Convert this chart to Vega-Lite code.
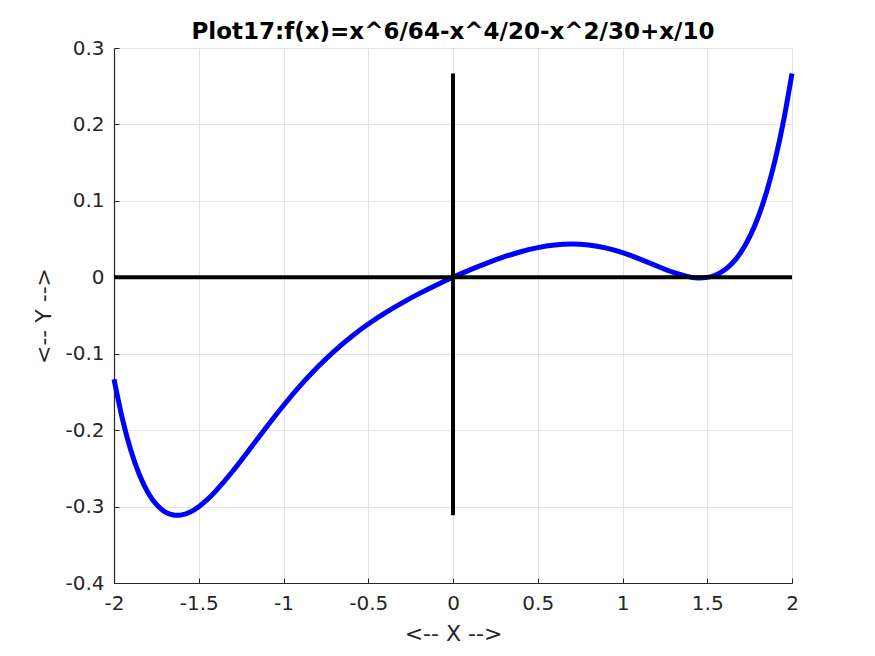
{
  "$schema": "https://vega.github.io/schema/vega-lite/v6.json",
  "width": 678,
  "height": 535,
  "autosize": {"type": "none"},
  "padding": {"left": 114, "top": 48, "right": 83, "bottom": 73},
  "background": "white",
  "config": {
    "font": "DejaVu Sans",
    "view": {"stroke": null},
    "axis": {
      "grid": true,
      "gridColor": "#e3e3e3",
      "gridWidth": 1,
      "domainColor": "#262626",
      "domainWidth": 1.2,
      "tickColor": "#262626",
      "tickSize": -5,
      "labelColor": "#262626",
      "labelFontSize": 20,
      "labelFlush": false,
      "labelOverlap": false,
      "labelFont": "DejaVu Sans",
      "titleFont": "DejaVu Sans",
      "titleFontSize": 22,
      "titleFontWeight": "normal",
      "titleColor": "#262626"
    }
  },
  "title": {
    "text": "Plot17:f(x)=x^6/64-x^4/20-x^2/30+x/10",
    "font": "DejaVu Sans",
    "fontSize": 23,
    "fontWeight": "bold",
    "color": "black",
    "anchor": "middle",
    "offset": -6
  },
  "layer": [
    {
      "data": {
        "values": [
          {"x": -2.0, "y": -0.133333},
          {"x": -1.95, "y": -0.185632},
          {"x": -1.9, "y": -0.226846},
          {"x": -1.85, "y": -0.25836},
          {"x": -1.8, "y": -0.281439},
          {"x": -1.75, "y": -0.297233},
          {"x": -1.7, "y": -0.306795},
          {"x": -1.65, "y": -0.31105},
          {"x": -1.6, "y": -0.310869},
          {"x": -1.55, "y": -0.307007},
          {"x": -1.5, "y": -0.300146},
          {"x": -1.45, "y": -0.290887},
          {"x": -1.4, "y": -0.279764},
          {"x": -1.3, "y": -0.253719},
          {"x": -1.2, "y": -0.225024},
          {"x": -1.1, "y": -0.195857},
          {"x": -1.0, "y": -0.167708},
          {"x": -0.9, "y": -0.141501},
          {"x": -0.8, "y": -0.117717},
          {"x": -0.7, "y": -0.0965},
          {"x": -0.6, "y": -0.077751},
          {"x": -0.5, "y": -0.061214},
          {"x": -0.4, "y": -0.046549},
          {"x": -0.3, "y": -0.033394},
          {"x": -0.2, "y": -0.021412},
          {"x": -0.1, "y": -0.010338},
          {"x": 0.0, "y": 0.0},
          {"x": 0.1, "y": 0.009662},
          {"x": 0.2, "y": 0.018588},
          {"x": 0.3, "y": 0.026606},
          {"x": 0.4, "y": 0.033451},
          {"x": 0.5, "y": 0.038786},
          {"x": 0.6, "y": 0.042249},
          {"x": 0.7, "y": 0.0435},
          {"x": 0.8, "y": 0.042283},
          {"x": 0.9, "y": 0.038499},
          {"x": 1.0, "y": 0.032292},
          {"x": 1.1, "y": 0.024143},
          {"x": 1.2, "y": 0.014976},
          {"x": 1.3, "y": 0.006281},
          {"x": 1.4, "y": 0.000236},
          {"x": 1.45, "y": -0.000887},
          {"x": 1.5, "y": -0.000146},
          {"x": 1.55, "y": 0.002993},
          {"x": 1.6, "y": 0.009131},
          {"x": 1.65, "y": 0.01895},
          {"x": 1.7, "y": 0.033205},
          {"x": 1.75, "y": 0.052767},
          {"x": 1.8, "y": 0.078561},
          {"x": 1.85, "y": 0.11164},
          {"x": 1.9, "y": 0.153154},
          {"x": 1.95, "y": 0.204368},
          {"x": 2.0, "y": 0.266667}
        ]
      },
      "mark": {"type": "line", "color": "#0000ff", "strokeWidth": 5, "interpolate": "natural", "clip": false},
      "encoding": {
        "x": {
          "field": "x", "type": "quantitative",
          "scale": {"domain": [-2, 2], "nice": false, "zero": false},
          "axis": {
            "title": "<-- X -->",
            "values": [-2, -1.5, -1, -0.5, 0, 0.5, 1, 1.5, 2],
            "labelExpr": "toString(datum.value)",
            "labelPadding": 15,
            "titlePadding": 10
          }
        },
        "y": {
          "field": "y", "type": "quantitative",
          "scale": {"domain": [-0.4, 0.3], "nice": false, "zero": false},
          "axis": {
            "title": "<-- Y -->",
            "values": [-0.4, -0.3, -0.2, -0.1, 0, 0.1, 0.2, 0.3],
            "labelExpr": "toString(datum.value)",
            "labelPadding": 15,
            "titlePadding": 9
          }
        }
      }
    },
    {
      "data": {
        "values": [
          {"x": -2, "x2": 2, "y": 0, "y2": 0},
          {"x": 0, "x2": 0, "y": -0.3115, "y2": 0.266667}
        ]
      },
      "mark": {"type": "rule", "color": "black", "strokeWidth": 4},
      "encoding": {
        "x": {"field": "x", "type": "quantitative"},
        "x2": {"field": "x2"},
        "y": {"field": "y", "type": "quantitative"},
        "y2": {"field": "y2"}
      }
    }
  ]
}
